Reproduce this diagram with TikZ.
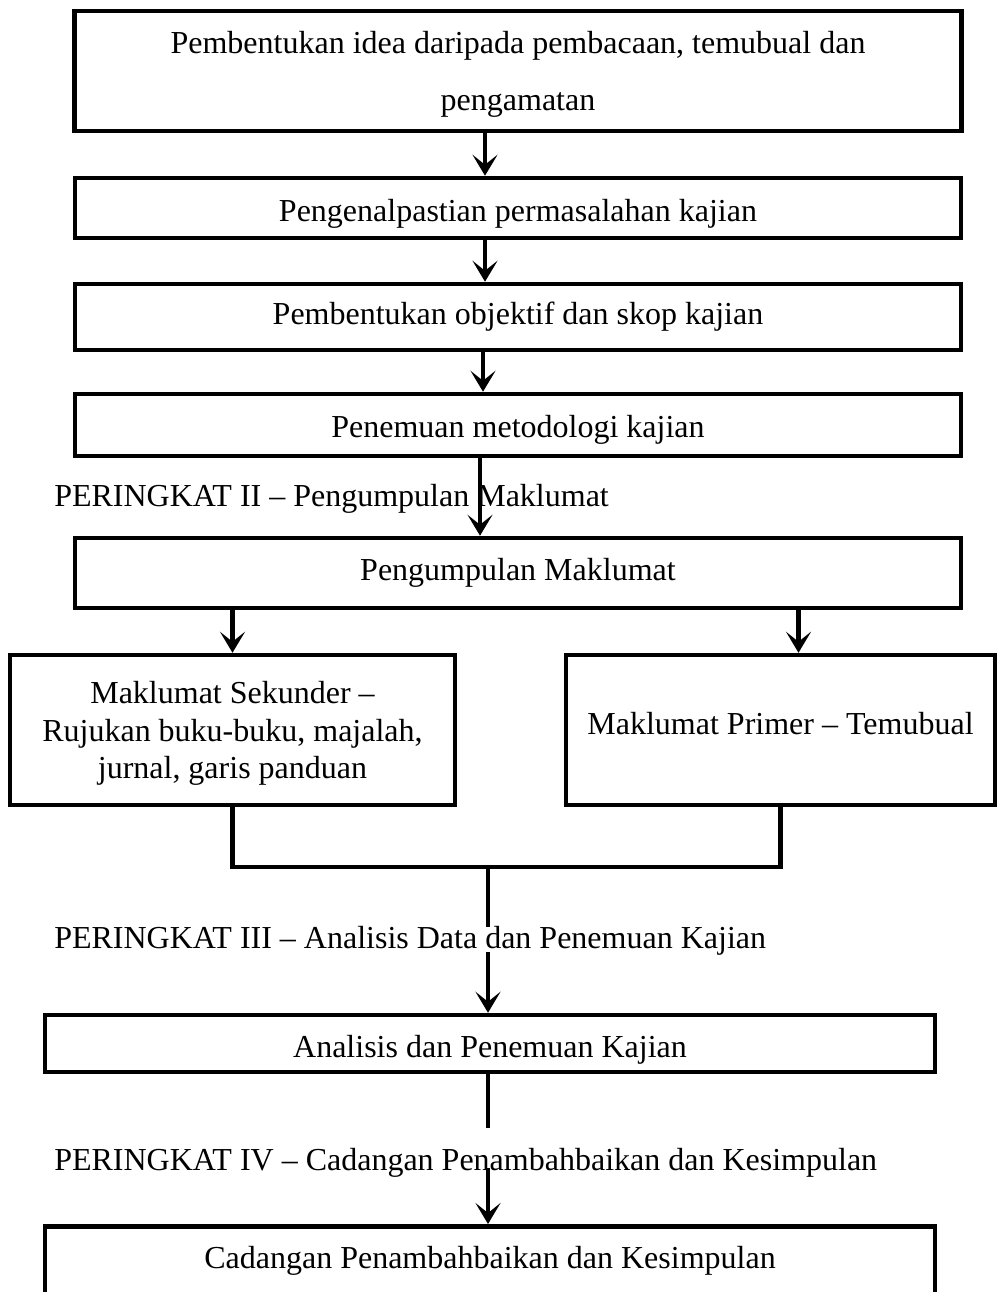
\documentclass[tikz,border=0pt]{standalone}
\usepackage{fontspec}
\setmainfont{Liberation Serif}
\usetikzlibrary{arrows.meta}
\begin{document}
\begin{tikzpicture}[x=1pt,y=-1pt,>={Stealth[length=21pt,width=25pt,inset=10pt]},line width=4.5pt,
 font=\fontsize{32}{37.5}\selectfont,
 box/.style={draw,inner sep=0pt,align=center},
 lowbox/.style={box,text height=26pt,text depth=2pt},
 stage/.style={anchor=west,inner sep=0pt}]
 \useasboundingbox (0,0) rectangle (1000,1292);
 \clip (0,0) rectangle (1000,1292);
 % PERINGKAT I
 \node[box,text depth=0pt,minimum width=887pt,minimum height=120pt] (idea) at (518,71) {Pembentukan idea daripada pembacaan, temubual dan\\[20pt]pengamatan};
 \node[lowbox,text height=28pt,minimum width=886pt,minimum height=60pt] (kenal) at (518,208) {Pengenalpastian permasalahan kajian};
 \node[box,minimum width=886pt,minimum height=66pt] (objektif) at (518,317) {Pembentukan objektif dan skop kajian};
 \node[lowbox,minimum width=886pt,minimum height=62pt] (metod) at (518,425) {Penemuan metodologi kajian};
 \draw[->] ([xshift=-33pt]idea.south) -- ([xshift=-33pt]kenal.north);
 \draw[->] ([xshift=-33pt]kenal.south) -- ([xshift=-33pt]objektif.north);
 \draw[->] ([xshift=-35pt]objektif.south) -- ([xshift=-35pt]metod.north);
 % PERINGKAT II
 \node[stage] (p2) at (52,499) {PERINGKAT II – Pengumpulan Maklumat};
 \node[box,minimum width=886pt,minimum height=70pt] (kumpul) at (518,573) {Pengumpulan Maklumat};
 \draw[->] ([xshift=-38pt]metod.south) -- ([xshift=-38pt]kumpul.north);
 \node[box,text depth=0pt,minimum width=445pt,minimum height=150pt] (sekunder) at (232.5,730) {Maklumat Sekunder –\\Rujukan buku-buku, majalah,\\jurnal, garis panduan};
 \node[box,minimum width=429pt,minimum height=150pt] (primer) at (780.5,730) {\raisebox{13pt}{Maklumat Primer – Temubual}};
 \coordinate (pr) at ([xshift=18pt]primer.north);
 \draw[->] (kumpul.south -| sekunder.north) -- (sekunder.north);
 \draw[->] (kumpul.south -| pr) -- (pr);
 % PERINGKAT III
 \coordinate (join) at (488,867);
 \coordinate (g3a) at (488,927);
 \coordinate (g3b) at (488,952);
 \draw (sekunder.south) -- (sekunder.south |- join) -- (primer.south |- join) -- (primer.south);
 \draw (join) -- (g3a);
 \node[stage] (p3) at (52,941) {PERINGKAT III – Analisis Data dan Penemuan Kajian};
 \node[lowbox,text height=30pt,minimum width=890pt,minimum height=57pt] (analisis) at (490,1043.5) {Analisis dan Penemuan Kajian};
 \draw[->] (g3b) -- (analisis.north -| g3b);
 % PERINGKAT IV
 \coordinate (g4a) at (488,1128);
 \coordinate (g4b) at (488,1168);
 \draw (analisis.south -| g4a) -- (g4a);
 \node[stage] (p4) at (52,1163) {PERINGKAT IV – Cadangan Penambahbaikan dan Kesimpulan};
 \node[box,anchor=north,minimum width=890pt,inner ysep=16pt,text height=26pt,text depth=80pt] (cadangan) at (490,1224) {Cadangan Penambahbaikan dan Kesimpulan};
 \draw[->] (g4b) -- (cadangan.north -| g4b);
\end{tikzpicture}
\end{document}
